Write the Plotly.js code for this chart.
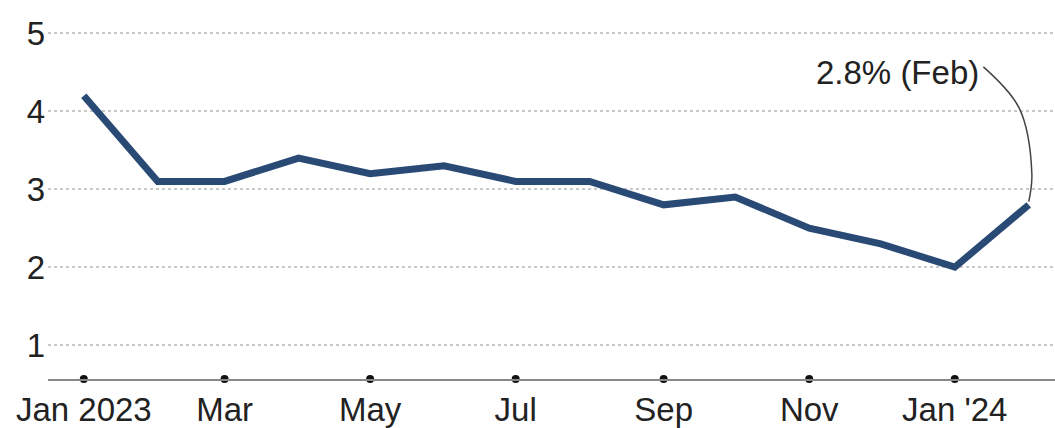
<!DOCTYPE html>
<html>
<head>
<meta charset="utf-8">
<script src="https://cdn.plot.ly/plotly-3.0.1.min.js"></script>
<style>
html,body{margin:0;padding:0;background:#fff;}
#chart{width:1055px;height:428px;}
</style>
</head>
<body>
<div id="chart"></div>
<script>
const months = ["2023-01-01","2023-02-01","2023-03-01","2023-04-01","2023-05-01","2023-06-01","2023-07-01","2023-08-01","2023-09-01","2023-10-01","2023-11-01","2023-12-01","2024-01-01","2024-02-01"];
const values = [4.2,3.1,3.1,3.4,3.2,3.3,3.1,3.1,2.8,2.9,2.5,2.3,2.0,2.8];
const tickDates = ["2023-01-01","2023-03-01","2023-05-01","2023-07-01","2023-09-01","2023-11-01","2024-01-01"];
const tickLabels = ["Jan 2023","Mar","May","Jul","Sep","Nov","Jan '24"];
const yTicks = [1,2,3,4,5];
const annotationText = "2.8% (Feb)";

const yMin = 0.565, yMax = 5.3;
const lastX = months[months.length-1], lastY = values[values.length-1];
const DAY = 86400000;
const tLast = new Date(lastX).getTime();
const shift = d => new Date(tLast + d*DAY).toISOString();

// curved connector from the label to the last point
const connector = {
  x: [shift(-19), shift(-4), shift(1.3), lastX],
  y: [4.57, 4.04, 3.2, lastY + 0.04],
  mode: "lines",
  line: {color: "#444", width: 1.5, shape: "spline"},
  hoverinfo: "skip",
  showlegend: false
};

const data = [
  {
    x: months, y: values, mode: "lines",
    line: {color: "#2a4a76", width: 7},
    showlegend: false
  },
  connector,
  {
    x: tickDates, y: tickDates.map(() => yMin), mode: "markers",
    marker: {color: "#111", size: 8},
    cliponaxis: false, hoverinfo: "skip", showlegend: false
  }
];

const layout = {
  width: 1055, height: 428,
  margin: {l: 48, r: 0, t: 10, b: 49},
  paper_bgcolor: "#fff", plot_bgcolor: "#fff",
  font: {family: "Liberation Sans, Arial, sans-serif", size: 33, color: "#222"},
  xaxis: {
    type: "date",
    range: ["2022-12-17", "2024-02-12"],
    tickvals: tickDates, ticktext: tickLabels,
    showgrid: false, zeroline: false,
    showline: true, linecolor: "#888", linewidth: 2,
    ticks: "", ticklabelstandoff: 0
  },
  yaxis: {
    range: [yMin, yMax],
    tickvals: yTicks,
    showgrid: true, gridcolor: "#c8c8c8", gridwidth: 2, griddash: "dot",
    zeroline: false, showline: false, ticks: "", ticklabelstandoff: 2
  },
  annotations: [{
    x: shift(-20), y: 4.5,
    xref: "x", yref: "y",
    text: annotationText, showarrow: false,
    xanchor: "right", yanchor: "middle",
    font: {size: 33, color: "#222"}
  }]
};

Plotly.newPlot("chart", data, layout, {displayModeBar: false, staticPlot: true});
</script>
</body>
</html>
